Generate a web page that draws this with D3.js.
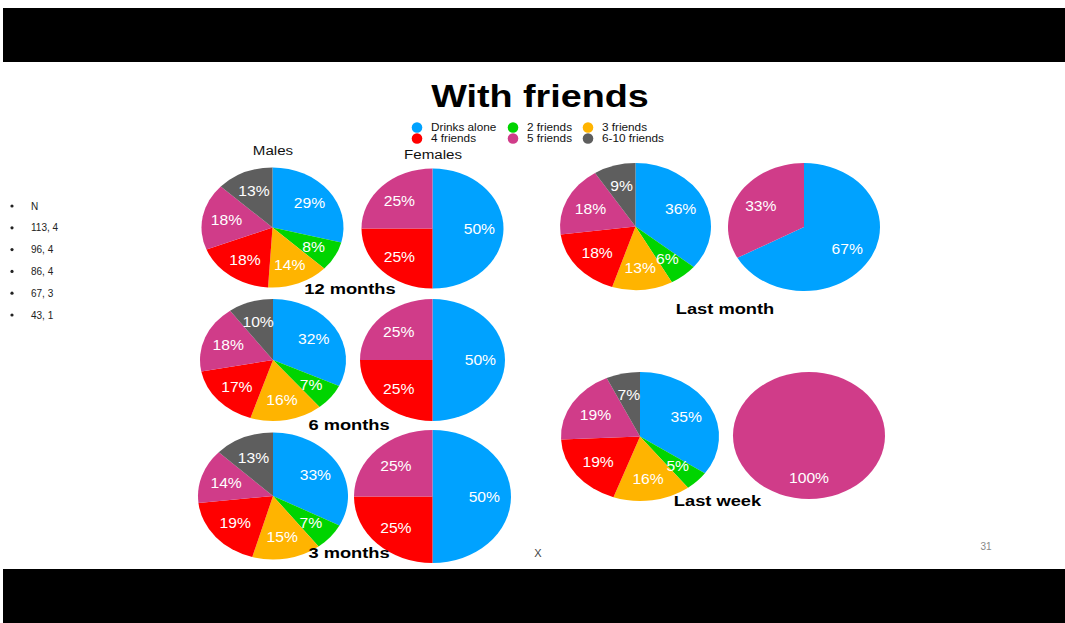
<!DOCTYPE html>
<html>
<head>
<meta charset="utf-8">
<script src="https://cdn.jsdelivr.net/npm/d3@7"></script>
<style>
  html, body { margin: 0; padding: 0; background: #fff; }
  svg { display: block; }
</style>
</head>
<body>
<svg id="chart" width="1065" height="623"></svg>
<script>
// ---------- DATA ----------
const categories = ["Drinks alone", "2 friends", "3 friends", "4 friends", "5 friends", "6-10 friends"];
const periods = ["12 months", "6 months", "3 months", "Last month", "Last week"];
// Males: percentage per category, in category order
const males12m = [29, 8, 14, 18, 18, 13];
const males6m = [32, 7, 16, 17, 18, 10];
const males3m = [33, 7, 15, 19, 14, 13];
const malesLastMonth = [36, 6, 13, 18, 18, 9];
const malesLastWeek = [35, 5, 16, 19, 19, 7];
// Females
const females12m = [50, 0, 0, 25, 25, 0];
const females6m = [50, 0, 0, 25, 25, 0];
const females3m = [50, 0, 0, 25, 25, 0];
const femalesLastMonth = [67, 0, 0, 0, 33, 0];
const femalesLastWeek = [0, 0, 0, 0, 100, 0];
// Side list (N)
const sideList = ["N", "113, 4", "96, 4", "86, 4", "67, 3", "43, 1"];

// ---------- STYLE / LAYOUT ----------
const colors = ["#00A2FF", "#00D400", "#FFB400", "#FF0000", "#D03C89", "#5E5E5E"];
const color = d3.scaleOrdinal().domain(categories).range(colors);
const FONT = "Liberation Sans, Arial, Helvetica, sans-serif";

const svg = d3.select("#chart");

// helper: horizontally stretched text (slide is stretched)
function stretchText(x, y, txt, size, weight, fill, sx, anchor) {
  svg.append("text")
    .attr("transform", `translate(${x},${y}) scale(${sx},1)`)
    .attr("text-anchor", anchor || "middle")
    .attr("font-family", FONT).attr("font-weight", weight).attr("font-size", size)
    .attr("fill", fill).text(txt);
}

// black bands
svg.append("rect").attr("x", 3).attr("y", 8).attr("width", 1062).attr("height", 54).attr("fill", "#000");
svg.append("rect").attr("x", 3).attr("y", 569).attr("width", 1062).attr("height", 54).attr("fill", "#000");

// title
stretchText(540, 107, "With friends", 32, "bold", "#000", 1.18);

// legend
const legendCols = [417, 513, 588];
const legendRows = [127.5, 138.5];
categories.forEach((c, i) => {
  const col = i % 3, row = Math.floor(i / 3);
  const g = svg.append("g").attr("transform", `translate(${legendCols[col]},${legendRows[row]})`);
  g.append("circle").attr("r", 5.3).attr("fill", color(c));
  g.append("text").attr("transform", "translate(14,3.8) scale(1.12,1)")
    .attr("font-family", FONT).attr("font-size", 10.5)
    .attr("fill", "#111").text(c);
});

// column headers
stretchText(273, 155, "Males", 13.5, "normal", "#111", 1.12);
stretchText(433, 159, "Females", 13.5, "normal", "#111", 1.12);

// pies layout: [cx, cy, rx, ry]
const pies = [
  { values: males12m, geo: [272.5, 227.5, 71, 60] },
  { values: females12m, geo: [432.5, 228.5, 71, 60] },
  { values: males6m, geo: [273, 360, 73, 61] },
  { values: females6m, geo: [432.5, 360, 72.5, 61] },
  { values: males3m, geo: [273, 496, 75, 63.5] },
  { values: females3m, geo: [432.5, 496.5, 78.5, 66.5] },
  { values: malesLastMonth, geo: [635.5, 226.5, 75.5, 63.5] },
  { values: femalesLastMonth, geo: [804, 227, 76, 64] },
  { values: malesLastWeek, geo: [640, 436.5, 79, 64.5] },
  { values: femalesLastWeek, geo: [809, 435.5, 76, 63.5] }
];

const pieGen = d3.pie().sort(null).value(d => d.v);

pies.forEach(p => {
  const [cx, cy, rx, ry] = p.geo;
  const data = categories.map((c, i) => ({ c, v: p.values[i] }));
  const arcs = pieGen(data).filter(a => a.data.v > 0);
  const arc = d3.arc().innerRadius(0).outerRadius(rx);
  const g = svg.append("g").attr("transform", `translate(${cx},${cy})`);
  g.append("g").attr("transform", `scale(1,${ry / rx})`)
    .selectAll("path").data(arcs).join("path")
    .attr("d", arc)
    .attr("fill", d => color(d.data.c));
  const k = 0.66;
  g.selectAll("text").data(arcs).join("text")
    .attr("transform", d => {
      const a = (d.startAngle + d.endAngle) / 2;
      return `translate(${Math.sin(a) * rx * k},${-Math.cos(a) * ry * k}) scale(1.08,1)`;
    })
    .attr("dy", "0.36em")
    .attr("text-anchor", "middle")
    .attr("font-family", FONT).attr("font-size", 14.5)
    .attr("fill", "#fff")
    .text(d => d.data.v + "%");
});

// period labels
const periodPos = [[350, 294], [349, 430], [349, 558], [725, 314], [717.5, 506]];
periods.forEach((t, i) => {
  stretchText(periodPos[i][0], periodPos[i][1], t, 15.5, "bold", "#000", 1.18);
});

// side list
const listY = d3.scalePoint().domain(sideList).range([206, 315]);
sideList.forEach(t => {
  svg.append("circle").attr("cx", 12).attr("cy", listY(t)).attr("r", 1.6).attr("fill", "#222");
  svg.append("text").attr("x", 31).attr("y", listY(t)).attr("dy", "0.36em")
    .attr("font-family", FONT).attr("font-size", 10)
    .attr("fill", "#222").text(t);
});

// misc
svg.append("text").attr("x", 538).attr("y", 557).attr("text-anchor", "middle")
  .attr("font-family", FONT).attr("font-size", 11)
  .attr("fill", "#444").text("X");
svg.append("text").attr("x", 986).attr("y", 550).attr("text-anchor", "middle")
  .attr("font-family", FONT).attr("font-size", 10)
  .attr("fill", "#888").text("31");
</script>
</body>
</html>
